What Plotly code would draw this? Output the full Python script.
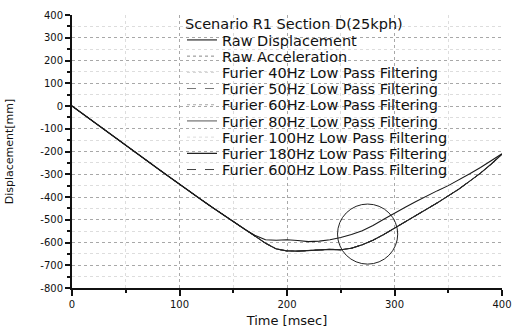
import plotly.graph_objects as go

# ---------------- data ----------------
time_ms = [0, 10, 20, 30, 40, 50, 60, 70, 80, 90, 100, 110, 120, 130, 140, 150,
           160, 170, 180, 190, 200, 210, 220, 230, 240, 250, 260, 270, 280, 290,
           300, 310, 320, 330, 340, 350, 360, 370, 380, 390, 400]

# upper curve (raw displacement)
raw_displacement = [0, -35, -70, -104, -139, -172, -207, -241, -276, -310, -345,
                    -378, -411, -444, -476, -508, -540, -568, -588, -590, -588,
                    -591, -596, -594, -588, -578, -565, -548, -525, -498, -470,
                    -445, -420, -395, -372, -350, -325, -298, -270, -240, -210]

# lower curve (acceleration-derived / filtered displacement)
filtered_displacement = [0, -35, -70, -104, -139, -172, -207, -241, -276, -310, -345,
                         -378, -411, -444, -476, -508, -540, -570, -603, -628, -637,
                         -638, -636, -632, -630, -632, -625, -610, -590, -565, -537,
                         -510, -482, -455, -425, -395, -365, -330, -295, -255, -212]

legend_title = "Scenario R1 Section D(25kph)"
series_names = ["Raw Displacement", "Raw Acceleration",
                "Furier 40Hz Low Pass Filtering", "Furier 50Hz Low Pass Filtering",
                "Furier 60Hz Low Pass Filtering", "Furier 80Hz Low Pass Filtering",
                "Furier 100Hz Low Pass Filtering", "Furier 180Hz Low Pass Filtering",
                "Furier 600Hz Low Pass Filtering"]
series_values = [raw_displacement, filtered_displacement,
                 filtered_displacement, filtered_displacement,
                 filtered_displacement, filtered_displacement,
                 filtered_displacement, filtered_displacement,
                 filtered_displacement]

x_ticks = [0, 100, 200, 300, 400]
y_ticks = [400, 300, 200, 100, 0, -100, -200, -300, -400, -500, -600, -700, -800]

# highlighted region (circle annotation)
circle_center = (275, -563)
circle_rx_ms = 28
circle_ry_mm = 132

# ---------------- styles ----------------
styles = [
    dict(color="#1a1a1a", dash="solid", width=1.1),
    dict(color="#8a8a8a", dash="dot", width=1),
    dict(color="#cfcfcf", dash="dot", width=1),
    dict(color="#777777", dash="dash", width=1),
    dict(color="#aaaaaa", dash="dot", width=1),
    dict(color="#555555", dash="solid", width=1),
    dict(color="#dddddd", dash="dot", width=1),
    dict(color="#222222", dash="solid", width=1.1),
    dict(color="#444444", dash="dash", width=1),
]
draw_order = [2, 6, 4, 1, 3, 5, 8, 7, 0]

W, H = 518, 328
M_L, M_R, M_T, M_B = 72, 16, 15, 40
plot_h = H - M_T - M_B
plot_w = W - M_L - M_R

def paper_y(px):
    return 1 - (px - M_T) / plot_h

def paper_x(px):
    return (px - M_L) / plot_w

legend_x = paper_x(182)
title_center_px = 24.5
row_centers = [40.5, 56.7, 72.9, 89.1, 105.3, 121.5, 137.7, 153.9, 170.1]
legend_font = dict(family="DejaVu Sans", size=14.5, color="#111111")

fig = go.Figure()
legend_keys = ["legend"] + [f"legend{i}" for i in range(2, len(series_names) + 1)]
for i in draw_order:
    fig.add_trace(go.Scatter(
        x=time_ms, y=series_values[i], mode="lines", name=series_names[i],
        line=styles[i], legend=legend_keys[i], showlegend=True,
    ))

layout_legends = {}
for i, key in enumerate(legend_keys):
    top_px = row_centers[i] - 16.5
    layout_legends[key] = dict(
        x=legend_x, xanchor="left", y=paper_y(top_px), yanchor="top",
        bgcolor="rgba(0,0,0,0)", borderwidth=0, font=legend_font,
        itemclick=False, itemdoubleclick=False)
fig.update_layout(**layout_legends)

# legend heading
fig.add_annotation(text=legend_title, xref="paper", yref="paper",
                   x=paper_x(184), xanchor="left",
                   y=paper_y(title_center_px), yanchor="middle",
                   showarrow=False, font=legend_font, borderpad=0)

fig.add_shape(type="circle", xref="x", yref="y",
              x0=circle_center[0] - circle_rx_ms, x1=circle_center[0] + circle_rx_ms,
              y0=circle_center[1] - circle_ry_mm, y1=circle_center[1] + circle_ry_mm,
              line=dict(color="#222222", width=1))

tick_font = dict(family="DejaVu Sans", size=10, color="#111111")
fig.update_layout(
    template="none",
    width=W, height=H,
    margin=dict(l=M_L, r=M_R, t=M_T, b=M_B),
    paper_bgcolor="white", plot_bgcolor="white",
    xaxis=dict(
        range=[0, 400], tickvals=x_ticks, ticktext=[str(v) for v in x_ticks],
        automargin=False,
        ticks="outside", ticklen=6, tickwidth=1.5, tickcolor="#111",
        showline=True, linecolor="#111", linewidth=2, mirror=False,
        showgrid=True, gridcolor="#a8a8a8", griddash="dot", gridwidth=1,
        zeroline=False, tickfont=tick_font,
        minor=dict(dtick=50, ticks="outside", ticklen=3, tickcolor="#111",
                   showgrid=True, gridcolor="#dddddd", griddash="dot"),
        title=dict(text="Time [msec]", font=dict(family="DejaVu Sans", size=13, color="#111"),
                   standoff=10),
    ),
    yaxis=dict(
        range=[-800, 400], tickvals=y_ticks, ticktext=[str(v) for v in y_ticks],
        automargin=False,
        ticks="outside", ticklen=5, tickwidth=1.5, tickcolor="#111",
        showline=True, linecolor="#111", linewidth=2, mirror=False,
        showgrid=True, gridcolor="#a8a8a8", griddash="dot", gridwidth=1,
        zeroline=False, tickfont=tick_font,
        minor=dict(dtick=50, ticks="outside", ticklen=3, tickcolor="#111",
                   showgrid=True, gridcolor="#dddddd", griddash="dot"),
        title=dict(text="Displacement[mm]", font=dict(family="DejaVu Sans", size=11, color="#111"),
                   standoff=24),
    ),
    showlegend=True,
)

fig.write_html("out.html")
